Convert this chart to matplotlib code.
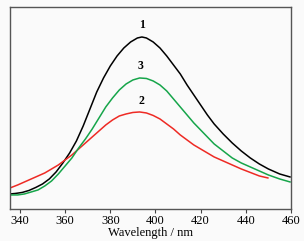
import matplotlib.pyplot as plt

# fluorescence emission spectra (arbitrary units)
wl_1 = [335.6, 338, 341, 344, 347, 350, 353, 356, 359, 362, 365, 368, 371, 374, 377, 380, 383,
        386, 389, 392, 394, 396, 399, 402, 405, 408, 411, 414, 417, 420, 423, 426, 430, 434,
        438, 442, 446, 450, 455, 459.6]
int_1 = [15, 15.5, 16.5, 18.5, 21.5, 25, 30, 37, 46, 56, 68, 83, 100, 117, 131, 143, 153,
         161, 167, 171, 172, 171, 167, 161, 153, 144, 135, 124, 114, 104, 94, 85, 75, 66,
         58, 51, 45, 40, 35, 32]

wl_2 = [335.6, 339, 342, 345, 348, 351, 354, 357, 360, 363, 366, 369, 372, 375, 378, 381, 384,
        387, 390, 393, 396, 399, 402, 405, 408, 411, 414, 417, 420, 423, 426, 430, 434, 438,
        442, 446, 449.8]
int_2 = [21, 24, 27, 30, 33, 36, 40, 44, 49, 54, 60, 66, 72, 78, 84, 89, 93,
         95, 96.5, 97, 96, 93.5, 90, 85, 80, 74, 69, 64, 60, 56, 52, 48, 44, 40,
         36.5, 33, 31]

wl_3 = [335.6, 339, 342, 345, 348, 351, 354, 357, 360, 363, 366, 369, 372, 375, 378, 381, 384,
        387, 390, 393, 396, 399, 402, 405, 408, 411, 414, 417, 420, 423, 426, 430, 434, 438,
        442, 446, 450, 455, 459.6]
int_3 = [14, 14, 15, 17, 19, 23, 28, 35, 43, 51, 61, 70, 80, 91, 102, 111, 119,
         125, 129, 131, 130.5, 128, 124, 118, 110, 102, 94, 86, 79, 72, 65, 58, 51, 46,
         42, 38, 34, 30, 27]

plt.rcParams['font.family'] = ['Liberation Serif', 'DejaVu Serif']

fig = plt.figure(figsize=(3.04, 2.41), dpi=100, facecolor='#fafafa')
ax = fig.add_axes([0.033, 0.133, 0.924, 0.838])
ax.set_facecolor('#fafafa')

ax.plot(wl_1, int_1, color='black', lw=1.1)
ax.plot(wl_2, int_2, color='#ee2a24', lw=1.1)
ax.plot(wl_3, int_3, color='#16a54a', lw=1.1)

# curve numbers
ax.text(394, 178, '1', ha='center', va='bottom', fontsize=8.5, fontweight='bold')
ax.text(393.6, 137, '3', ha='center', va='bottom', fontsize=8.5, fontweight='bold')
ax.text(393.6, 102, '2', ha='center', va='bottom', fontsize=8.5, fontweight='bold')

ax.set_xlim(335.6, 460)
ax.set_ylim(0, 202)
ax.set_xticks([340, 360, 380, 400, 420, 440, 460])
ax.set_yticks([])
ax.tick_params(axis='x', direction='out', length=3, labelsize=9, pad=1, color='#444444')
ax.set_xlabel('Wavelength / nm', fontsize=9, labelpad=0)
for s in ax.spines.values():
    s.set_color('#555555')
    s.set_linewidth(1.0)

fig.savefig('out.png', dpi=100, facecolor=fig.get_facecolor())
